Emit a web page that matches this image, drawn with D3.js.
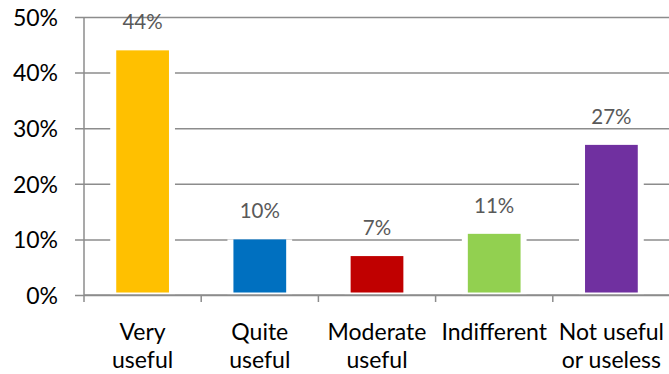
<!DOCTYPE html>
<html>
<head>
<meta charset="utf-8">
<script src="https://cdn.jsdelivr.net/npm/d3@7"></script>
<style>
  html, body { margin: 0; padding: 0; background: #fff; }
  svg { display: block; }
  text { font-family: Lato, "Open Sans", sans-serif; }
</style>
</head>
<body>
<svg id="chart" width="669" height="374"></svg>
<script>
// Survey answers: how useful respondents found the tool
const categories = ["Very useful", "Quite useful", "Moderate useful", "Indifferent", "Not useful or useless"];
const categoryLines = [["Very", "useful"], ["Quite", "useful"], ["Moderate", "useful"], ["Indifferent"], ["Not useful", "or useless"]];
const shares = [44, 10, 7, 11, 27];
const barColors = ["#FFC000", "#0070C0", "#C00000", "#92D050", "#7030A0"];
const yTicks = [0, 10, 20, 30, 40, 50];

const svg = d3.select("#chart");
const margin = { top: 17, right: 0, bottom: 78, left: 84 };
const W = 670, H = 374;

const x = d3.scaleBand()
  .domain(categories)
  .range([margin.left, W - margin.right])
  .paddingInner(0.55)
  .paddingOuter(0.275);

const y = d3.scaleLinear()
  .domain([0, 50])
  .range([H - margin.bottom - 1, margin.top]);

const gridColor = "#8c8c8c";

// Horizontal gridlines with y tick labels
const yAxis = d3.axisLeft(y)
  .tickValues(yTicks)
  .tickFormat(d => d + "%")
  .tickSize(-(W - margin.left))
  .tickPadding(0);

const gy = svg.append("g")
  .attr("transform", `translate(${margin.left},0)`)
  .call(yAxis);
gy.select(".domain").remove();
gy.selectAll(".tick line")
  .attr("x1", -9)
  .attr("stroke", gridColor)
  .attr("stroke-width", 1.5);
gy.selectAll(".tick text")
  .attr("x", -26)
  .attr("dy", "0.36em")
  .attr("fill", "#000")
  .style("font-size", "23px");

// White margin around each bar interrupts the gridlines
const pad = 6;
svg.append("g").selectAll("rect")
  .data(shares)
  .join("rect")
  .attr("x", (d, i) => x(categories[i]) - pad)
  .attr("width", x.bandwidth() + 2 * pad)
  .attr("y", d => y(d))
  .attr("height", d => y(0) - y(d))
  .attr("fill", "#fff");

// Bars
svg.append("g").selectAll("rect")
  .data(shares)
  .join("rect")
  .attr("x", (d, i) => x(categories[i]))
  .attr("width", x.bandwidth())
  .attr("y", d => y(d))
  .attr("height", d => y(0) - y(d) - 2.5)
  .attr("fill", (d, i) => barColors[i]);

// Value labels above the bars
svg.append("g").selectAll("text")
  .data(shares)
  .join("text")
  .attr("x", (d, i) => x(categories[i]) + x.bandwidth() / 2)
  .attr("y", d => y(d) - 21)
  .attr("text-anchor", "middle")
  .attr("fill", "#595959")
  .style("font-size", "20.5px")
  .text(d => d + "%");

// Axis lines
const axisG = svg.append("g").attr("stroke", gridColor).attr("stroke-width", 1.5);
axisG.append("line")
  .attr("x1", margin.left).attr("x2", margin.left)
  .attr("y1", y(50)).attr("y2", y(0) + 7);
axisG.append("line")
  .attr("x1", margin.left).attr("x2", W)
  .attr("y1", y(0)).attr("y2", y(0));
// Category separators on the x axis
const boundaries = d3.range(categories.length).map(i => x(categories[i]) - x.step() * x.paddingOuter() + x.step());
axisG.selectAll("line.sep")
  .data(boundaries)
  .join("line")
  .attr("class", "sep")
  .attr("x1", d => d).attr("x2", d => d)
  .attr("y1", y(0)).attr("y2", y(0) + 7);

// Category labels, one text per line
const lineGap = 28;
const labelG = svg.append("g");
categoryLines.forEach((lines, i) => {
  labelG.selectAll(null)
    .data(lines)
    .join("text")
    .attr("x", x(categories[i]) + x.bandwidth() / 2)
    .attr("y", (d, j) => 339.5 + j * lineGap)
    .attr("text-anchor", "middle")
    .attr("fill", "#000")
    .style("font-size", "23px")
    .text(d => d);
});
</script>
</body>
</html>
